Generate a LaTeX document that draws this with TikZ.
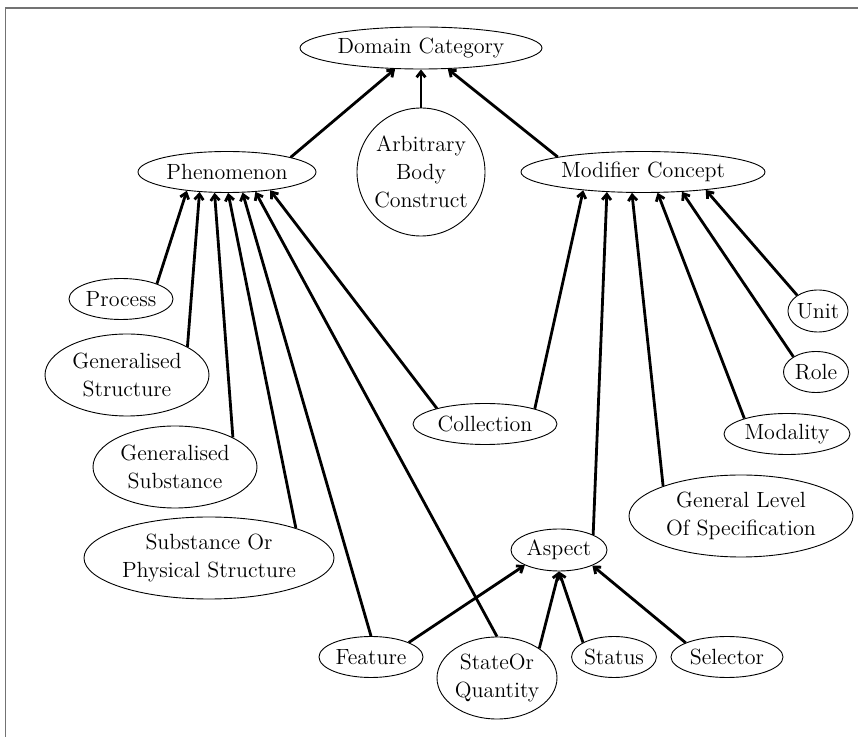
\documentclass[tikz,border=0pt]{standalone}
\usetikzlibrary{shapes.geometric,arrows.meta}

\begin{document}
\begin{tikzpicture}[x=0.5pt, y=-0.5pt, ->, >={Straight Barb[length=2.8pt,width=4.4pt]},
    font=\fontsize{11}{14}\selectfont,
    cls/.style={draw, ellipse, inner sep=0pt, line width=0.45pt, align=center},
    isa/.style={line width=1.4pt}]
  \useasboundingbox (0,0) rectangle (858,737);
  % frame
  \draw[-, black!55, line width=0.9pt] (5.5,737) -- (5.5,8) -- (858,8);

  % top level
  \node[cls, minimum width=121pt, minimum height=21pt] (dom) at (421,48) {Domain Category};
  \node[cls, minimum width=89pt, minimum height=20.5pt] (phen) at (227,172) {Phenomenon};
  \node[draw, circle, inner sep=0pt, line width=0.45pt, align=center, minimum size=64pt] (arb) at (421,172) {Arbitrary\\Body\\Construct};
  \node[cls, minimum width=122pt, minimum height=20.5pt] (mod) at (643,172) {Modifier Concept};

  % kinds of phenomenon
  \node[cls, minimum width=52pt, minimum height=20.5pt] (proc) at (121,299) {Process};
  \node[cls, minimum width=82pt, minimum height=41pt] (gstr) at (127,375) {Generalised\\Structure};
  \node[cls, minimum width=82pt, minimum height=41pt] (gsub) at (175,467) {Generalised\\Substance};
  \node[cls, minimum width=125pt, minimum height=41pt] (sops) at (209,558) {Substance Or\\Physical Structure};
  \node[cls, minimum width=72pt, minimum height=20.5pt] (coll) at (485,424) {Collection};
  \node[cls, minimum width=52pt, minimum height=20.5pt] (feat) at (371,657) {Feature};
  \node[cls, minimum width=60pt, minimum height=41pt] (soq) at (497,678) {StateOr\\Quantity};

  % kinds of modifier concept
  \node[cls, minimum width=30pt, minimum height=21pt] (unit) at (818,311) {Unit};
  \node[cls, minimum width=32.5pt, minimum height=20.5pt] (role) at (816,372) {Role};
  \node[cls, minimum width=63pt, minimum height=20.5pt] (moda) at (787,434) {Modality};
  \node[cls, minimum width=112pt, minimum height=41pt] (glos) at (741,516) {General Level\\Of Specification};
  \node[cls, minimum width=48pt, minimum height=21pt] (asp) at (559,550) {Aspect};
  \node[cls, minimum width=42pt, minimum height=20.5pt] (stat) at (614,657) {Status};
  \node[cls, minimum width=56pt, minimum height=20.5pt] (sel) at (727,657) {Selector};

  % links to domain category
  \draw[isa] (phen.13) -- (dom.219);
  \draw[isa] (arb.north) -- (dom.south);
  \draw[isa] (mod.170) -- (dom.322);

  % links to phenomenon
  \draw[isa] (proc.23) -- (phen.205);
  \draw[isa] (gstr.25) -- (phen.216);
  \draw[isa] (gsub.27) -- (phen.239);
  \draw[isa] (sops.19) -- (phen.273);
  \draw[isa] (feat.north) -- (phen.307);
  \draw[isa] (soq.north) -- (phen.325);
  \draw[isa] (coll.162) -- (phen.337);

  % links to modifier concept
  \draw[isa] (coll.17) -- (mod.197);
  \draw[isa] (asp.24) -- (mod.209);
  \draw[isa] (glos.159) -- (mod.242);
  \draw[isa] (moda.160) -- (mod.305);
  \draw[isa] (role.146) -- (mod.333);
  \draw[isa] (unit.143) -- (mod.344);

  % links to aspect
  \draw[isa] (feat.21) -- (asp.204);
  \draw[isa] (soq.35) -- (asp.south);
  \draw[isa] (stat.155) -- (asp.south);
  \draw[isa] (sel.161) -- (asp.335);
\end{tikzpicture}
\end{document}
